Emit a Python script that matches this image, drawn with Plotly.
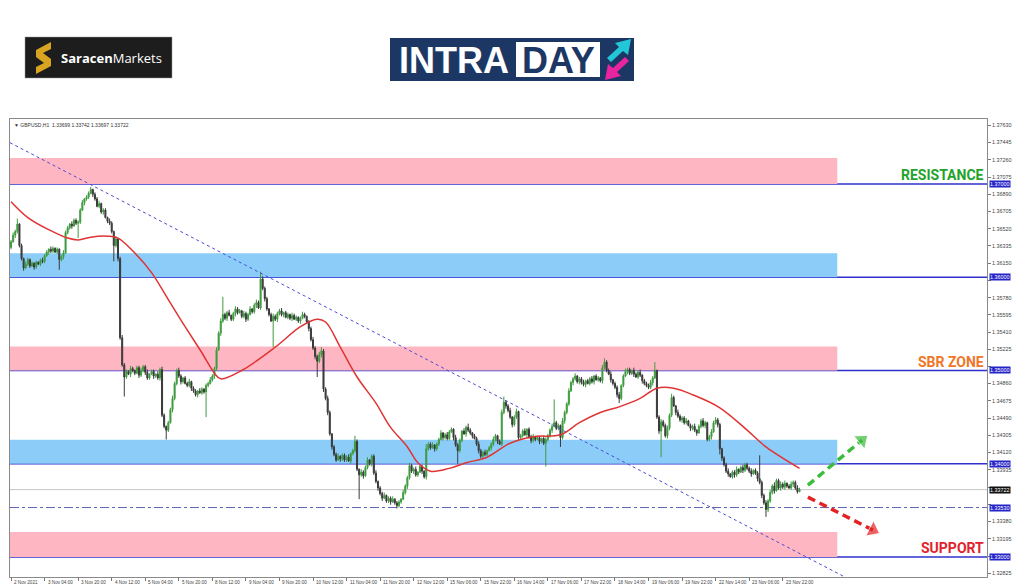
import plotly.graph_objects as go

# ---------------- data ----------------
TICK_LABELS = ["2 Nov 2021", "3 Nov 04:00", "3 Nov 20:00", "4 Nov 12:00", "5 Nov 04:00",
               "5 Nov 20:00", "8 Nov 12:00", "9 Nov 04:00", "9 Nov 20:00", "10 Nov 12:00",
               "11 Nov 04:00", "11 Nov 20:00", "12 Nov 12:00", "15 Nov 06:00", "15 Nov 22:00",
               "16 Nov 14:00", "17 Nov 06:00", "17 Nov 22:00", "18 Nov 14:00", "19 Nov 06:00",
               "19 Nov 22:00", "22 Nov 14:00", "23 Nov 06:00", "23 Nov 22:00"]
BARS_PER_TICK = 16

FIRST_OPEN = 1.3632
CLOSES = [
    1.3638, 1.3645, 1.3649, 1.3657, 1.3634, 1.3620, 1.3610, 1.3614, 1.3619, 1.3612, 1.3615, 1.3611, 1.3616, 1.3614, 1.3618, 1.3617,
    1.3623, 1.3627, 1.3630, 1.3628, 1.3631, 1.3627, 1.3630, 1.3619, 1.3622, 1.3626, 1.3648, 1.3653, 1.3657, 1.3655, 1.3661, 1.3658,
    1.3659, 1.3672, 1.3680, 1.3684, 1.3686, 1.3690, 1.3694, 1.3689, 1.3684, 1.3676, 1.3679, 1.3670, 1.3672, 1.3664, 1.3660, 1.3658,
    1.3649, 1.3634, 1.3641, 1.3620, 1.3535, 1.3506, 1.3493, 1.3499, 1.3496, 1.3502, 1.3500, 1.3497, 1.3503, 1.3495, 1.3500, 1.3504,
    1.3498, 1.3492, 1.3496, 1.3499, 1.3494, 1.3496, 1.3492, 1.3501, 1.3452, 1.3440, 1.3436, 1.3444, 1.3458, 1.3470, 1.3486, 1.3500,
    1.3494, 1.3488, 1.3492, 1.3486, 1.3484, 1.3488, 1.3481, 1.3478, 1.3474, 1.3478, 1.3476, 1.3480, 1.3477, 1.3484, 1.3486, 1.3490,
    1.3494, 1.3502, 1.3522, 1.3540, 1.3553, 1.3560, 1.3556, 1.3562, 1.3559, 1.3555, 1.3561, 1.3566, 1.3562, 1.3564, 1.3558, 1.3561,
    1.3555, 1.3560, 1.3566, 1.3563, 1.3570, 1.3573, 1.3567, 1.3598, 1.3588, 1.3577, 1.3566, 1.3560, 1.3553, 1.3558, 1.3555, 1.3561,
    1.3564, 1.3560, 1.3562, 1.3557, 1.3560, 1.3556, 1.3559, 1.3555, 1.3557, 1.3553, 1.3556, 1.3560, 1.3558, 1.3552, 1.3545, 1.3533,
    1.3524, 1.3515, 1.3510, 1.3517, 1.3521, 1.3480, 1.3470, 1.3455, 1.3432, 1.3418, 1.3410, 1.3404, 1.3408, 1.3405, 1.3409, 1.3404,
    1.3407, 1.3403, 1.3411, 1.3414, 1.3424, 1.3394, 1.3388, 1.3391, 1.3387, 1.3396, 1.3404, 1.3400, 1.3408, 1.3390, 1.3381, 1.3374,
    1.3368, 1.3363, 1.3366, 1.3360, 1.3363, 1.3359, 1.3362, 1.3358, 1.3355, 1.3359, 1.3362, 1.3369, 1.3376, 1.3385, 1.3398, 1.3392,
    1.3394, 1.3388, 1.3391, 1.3397, 1.3392, 1.3386, 1.3416, 1.3421, 1.3417, 1.3420, 1.3416, 1.3421, 1.3426, 1.3433, 1.3428, 1.3431,
    1.3427, 1.3434, 1.3437, 1.3428, 1.3420, 1.3414, 1.3425, 1.3435, 1.3432, 1.3439, 1.3436, 1.3433, 1.3430, 1.3427, 1.3421, 1.3414,
    1.3408, 1.3412, 1.3410, 1.3414, 1.3417, 1.3421, 1.3426, 1.3430, 1.3424, 1.3421, 1.3455, 1.3466, 1.3462, 1.3457, 1.3450, 1.3442,
    1.3450, 1.3456, 1.3428, 1.3430, 1.3435, 1.3431, 1.3437, 1.3429, 1.3425, 1.3429, 1.3426, 1.3428, 1.3424, 1.3427, 1.3422, 1.3426,
    1.3430, 1.3436, 1.3440, 1.3444, 1.3438, 1.3441, 1.3428, 1.3446, 1.3455, 1.3464, 1.3478, 1.3487, 1.3491, 1.3494, 1.3488, 1.3491,
    1.3487, 1.3485, 1.3489, 1.3486, 1.3491, 1.3488, 1.3494, 1.3490, 1.3492, 1.3489, 1.3503, 1.3509, 1.3500, 1.3496, 1.3490, 1.3486,
    1.3482, 1.3474, 1.3470, 1.3484, 1.3494, 1.3499, 1.3501, 1.3497, 1.3500, 1.3496, 1.3493, 1.3498, 1.3495, 1.3489, 1.3486, 1.3484,
    1.3482, 1.3487, 1.3492, 1.3500, 1.3450, 1.3435, 1.3445, 1.3441, 1.3430, 1.3438, 1.3452, 1.3471, 1.3462, 1.3455, 1.3451, 1.3447,
    1.3449, 1.3444, 1.3446, 1.3441, 1.3438, 1.3440, 1.3436, 1.3433, 1.3440, 1.3446, 1.3441, 1.3444, 1.3426, 1.3429, 1.3434, 1.3444,
    1.3447, 1.3442, 1.3416, 1.3406, 1.3399, 1.3392, 1.3389, 1.3386, 1.3391, 1.3388, 1.3394, 1.3391, 1.3396, 1.3393, 1.3399, 1.3395,
    1.3392, 1.3389, 1.3393, 1.3390, 1.3384, 1.3380, 1.3366, 1.3358, 1.3351, 1.3360, 1.3369, 1.3376, 1.3371, 1.3382, 1.3374, 1.3378,
    1.3375, 1.3379, 1.3376, 1.3374, 1.3378, 1.3380, 1.3374, 1.33699, 1.33722,
]
# wick lengths above / below the candle body, in pips
UP_WICK_PIPS = [
    2, 3, 2, 6, 1, 2, 1, 3, 2, 1, 2, 1, 2, 1, 2, 3,
    2, 2, 1, 3, 2, 1, 2, 1, 2, 3, 2, 2, 1, 3, 2, 2,
    2, 2, 3, 1, 2, 2, 3, 1, 2, 2, 3, 1, 2, 2, 1, 3,
    2, 1, 3, 1, 2, 3, 2, 2, 1, 3, 2, 1, 2, 2, 3, 2,
    2, 3, 1, 2, 2, 1, 3, 2, 3, 2, 1, 2, 2, 3, 2, 2,
    3, 2, 1, 2, 2, 3, 1, 2, 2, 1, 3, 2, 1, 2, 2, 3,
    2, 2, 3, 2, 3, 19, 2, 2, 3, 1, 2, 3, 2, 2, 1, 3,
    2, 2, 3, 1, 2, 3, 2, 8, 3, 2, 2, 1, 2, 3, 2, 2,
    2, 3, 1, 2, 2, 1, 3, 2, 2, 1, 2, 3, 2, 1, 2, 2,
    3, 2, 2, 3, 4, 2, 2, 3, 2, 1, 2, 2, 3, 1, 2, 2,
    2, 3, 1, 2, 6, 2, 1, 3, 2, 2, 3, 1, 2, 2, 3, 1,
    2, 2, 3, 1, 2, 2, 3, 1, 2, 2, 1, 3, 2, 2, 3, 2,
    2, 3, 1, 2, 2, 1, 5, 2, 2, 3, 1, 2, 2, 3, 1, 2,
    3, 2, 2, 1, 3, 2, 2, 1, 3, 2, 4, 2, 1, 2, 2, 3,
    2, 2, 3, 1, 2, 2, 3, 2, 1, 2, 3, 6, 2, 2, 3, 1,
    2, 3, 1, 2, 2, 3, 1, 2, 2, 3, 1, 2, 2, 1, 3, 2,
    2, 2, 3, 25, 2, 2, 1, 3, 2, 2, 3, 2, 2, 3, 1, 2,
    2, 3, 1, 2, 2, 3, 1, 2, 2, 1, 3, 4, 2, 2, 3, 1,
    2, 2, 3, 1, 2, 3, 2, 2, 1, 3, 2, 2, 3, 1, 2, 2,
    2, 3, 2, 9, 1, 2, 3, 2, 2, 3, 2, 4, 2, 1, 3, 2,
    2, 2, 3, 1, 2, 2, 3, 1, 2, 2, 3, 2, 1, 2, 3, 2,
    3, 2, 2, 1, 2, 2, 3, 1, 2, 2, 3, 1, 2, 3, 2, 2,
    2, 3, 1, 2, 2, 25, 2, 2, 3, 2, 3, 2, 4, 2, 2, 3,
    2, 3, 1, 2, 3, 2, 2, 3, 2,
]
DN_WICK_PIPS = [
    2, 1, 3, 2, 2, 2, 3, 1, 2, 2, 1, 3, 2, 1, 2, 2,
    2, 1, 3, 2, 2, 1, 2, 11, 2, 3, 1, 2, 2, 3, 1, 2,
    16, 2, 1, 3, 2, 2, 1, 3, 2, 1, 2, 2, 3, 1, 2, 2,
    2, 17, 2, 3, 2, 2, 21, 2, 1, 3, 2, 2, 1, 3, 2, 2,
    3, 2, 2, 1, 3, 2, 2, 3, 2, 2, 10, 2, 1, 3, 2, 2,
    2, 3, 2, 1, 2, 2, 3, 2, 2, 3, 1, 2, 2, 27, 2, 1,
    2, 3, 2, 1, 3, 2, 2, 3, 1, 2, 2, 3, 2, 1, 2, 2,
    3, 2, 1, 2, 2, 3, 1, 2, 2, 3, 2, 2, 1, 28, 2, 3,
    2, 2, 3, 1, 2, 2, 3, 1, 2, 2, 3, 1, 2, 2, 3, 2,
    2, 3, 17, 2, 3, 3, 2, 3, 2, 3, 2, 2, 1, 3, 2, 2,
    2, 1, 3, 2, 2, 2, 26, 2, 3, 1, 2, 2, 3, 2, 2, 3,
    2, 3, 1, 2, 2, 3, 1, 2, 3, 2, 2, 1, 2, 3, 2, 2,
    3, 2, 2, 1, 3, 2, 3, 2, 2, 1, 3, 2, 2, 1, 3, 2,
    2, 2, 1, 3, 2, 14, 2, 2, 1, 3, 2, 2, 3, 1, 2, 3,
    2, 3, 2, 2, 1, 3, 2, 2, 3, 1, 2, 2, 3, 2, 2, 3,
    2, 2, 3, 2, 2, 1, 3, 2, 3, 2, 2, 1, 3, 2, 2, 25,
    2, 2, 3, 1, 2, 2, 10, 2, 3, 2, 2, 1, 3, 2, 2, 3,
    2, 2, 3, 1, 2, 2, 3, 1, 2, 2, 3, 2, 2, 1, 3, 2,
    2, 3, 5, 2, 2, 1, 3, 2, 2, 3, 1, 2, 2, 3, 2, 2,
    2, 2, 3, 1, 2, 3, 28, 2, 2, 3, 2, 2, 1, 3, 2, 2,
    3, 2, 2, 1, 3, 2, 2, 3, 1, 2, 2, 3, 2, 2, 3, 1,
    2, 3, 6, 3, 2, 2, 3, 1, 2, 3, 2, 2, 1, 3, 2, 2,
    2, 3, 1, 2, 3, 2, 3, 2, 8, 3, 2, 2, 3, 1, 2, 3,
    2, 3, 2, 1, 2, 3, 2, 2, 0.2,
]
PIP = 0.0001

# moving average (red line), read at these bar positions
MA_BARS = [0, 8, 18, 27, 32, 38, 46, 51, 59, 67, 75, 83, 91, 97, 100, 110, 126, 138, 146, 150,
           157, 165, 174, 181, 189, 194, 200, 209, 217, 227, 238, 249, 262, 271, 281, 290, 300,
           308, 316, 325, 338, 351, 360, 376]
MA_VALS = [1.3681, 1.3664, 1.3651, 1.3642, 1.3640, 1.3643, 1.3644, 1.3642, 1.3626, 1.3605,
           1.3576, 1.3547, 1.3519, 1.3497, 1.3491, 1.3500, 1.3525, 1.3547, 1.3555, 1.3552,
           1.3525, 1.3493, 1.3465, 1.3439, 1.3418, 1.3401, 1.3392, 1.3395, 1.3401, 1.3407,
           1.3422, 1.3429, 1.3431, 1.3444, 1.3455, 1.3461, 1.3470, 1.3481, 1.3481, 1.3474,
           1.3460, 1.3436, 1.3418, 1.3395]

Y_TICKS = [1.37630, 1.37445, 1.37260, 1.37075, 1.36890, 1.36705, 1.36520, 1.36335, 1.36150,
           1.35965, 1.35780, 1.35595, 1.35410, 1.35225, 1.35040, 1.34860, 1.34675, 1.34490,
           1.34305, 1.34120, 1.33935, 1.33750, 1.33565, 1.33380, 1.33195, 1.33010, 1.32825]
# tick labels covered by the price boxes in the reference
Y_TICKS_HIDDEN = [1.35965, 1.35040, 1.33750, 1.33565, 1.33010]
Y_RANGE = [1.32785, 1.37697]
X_RANGE = [-0.5, 465.4]

LEVELS = [1.37000, 1.36000, 1.35000, 1.34000, 1.33000]
PINK_ZONES = [(1.37000, 1.37279), (1.35000, 1.35258), (1.33000, 1.33268)]
BLUE_ZONES = [(1.36000, 1.36258), (1.34000, 1.34258)]
ZONE_END_BAR = 394
CURRENT_PRICE = 1.33722
DASH_LEVEL = 1.33530

TREND_X = [-0.5, 400]
TREND_Y = [1.37443, 1.32757]
UP_ARROW_X, UP_ARROW_Y = [380, 405.8], [1.33770, 1.34253]
DN_ARROW_X, DN_ARROW_Y = [380, 411.0], [1.33642, 1.33288]

ZONE_LABELS = [("RESISTANCE", 175, "#22a32a"), ("SBR ZONE", 362, "#f07628"), ("SUPPORT", 548, "#e3232b")]
HEADER = "\u25bc GBPUSD,H1  1.33699 1.33742 1.33697 1.33722"

# ---------------- build ----------------
n = min(len(CLOSES), len(UP_WICK_PIPS), len(DN_WICK_PIPS))
closes = CLOSES[:n]
opens = [FIRST_OPEN] + closes[:-1]
highs = [max(o, c) + u * PIP for o, c, u in zip(opens, closes, UP_WICK_PIPS)]
lows = [min(o, c) - d * PIP for o, c, d in zip(opens, closes, DN_WICK_PIPS)]
bars = list(range(n))

W, H = 1024, 587
PL, PR, PT, PB = 10, 987, 119, 577


def px(x):
    return (x - PL) / (PR - PL)


def py(y):
    return (PB - y) / (PB - PT)


def ppath(pts):
    return "M " + " L ".join(f"{px(a):.5f},{py(b):.5f}" for a, b in pts) + " Z"


fig = go.Figure()

fig.add_trace(go.Scatter(x=TREND_X, y=TREND_Y, mode="lines",
                         line=dict(color="#4b4bd2", width=1, dash="dot"), hoverinfo="skip"))

fig.add_trace(go.Candlestick(
    x=bars, open=opens, high=highs, low=lows, close=closes,
    increasing=dict(line=dict(color="#3f9b3f", width=1), fillcolor="#3f9b3f"),
    decreasing=dict(line=dict(color="#3a3a3a", width=1), fillcolor="#3a3a3a"),
    whiskerwidth=0, hoverinfo="skip"))

fig.add_trace(go.Scatter(x=MA_BARS, y=MA_VALS, mode="lines",
                         line=dict(color="#e03434", width=1.5, shape="spline", smoothing=1),
                         hoverinfo="skip"))

for xs, ys, col in [(UP_ARROW_X, UP_ARROW_Y, "#3cbc3c"), (DN_ARROW_X, DN_ARROW_Y, "#e42222")]:
    fig.add_trace(go.Scatter(
        x=xs, y=ys, mode="lines+markers",
        line=dict(color=col, width=3.5, dash="8px,5px"),
        marker=dict(symbol="triangle-up", size=[0, 15], color=col, angleref="previous"),
        hoverinfo="skip"))

shapes = []
for y0, y1 in PINK_ZONES:
    shapes.append(dict(type="rect", xref="x", yref="y", x0=X_RANGE[0], x1=ZONE_END_BAR, y0=y0, y1=y1,
                       fillcolor="#ffb6c3", line=dict(width=0), layer="below"))
for y0, y1 in BLUE_ZONES:
    shapes.append(dict(type="rect", xref="x", yref="y", x0=X_RANGE[0], x1=ZONE_END_BAR, y0=y0, y1=y1,
                       fillcolor="#8bcdf8", line=dict(width=0), layer="below"))
for lv in LEVELS:
    shapes.append(dict(type="line", xref="paper", yref="y", x0=0, x1=1, y0=lv, y1=lv,
                       line=dict(color="#3030cc", width=1.6), layer="below"))
shapes.append(dict(type="line", xref="paper", yref="y", x0=0, x1=1, y0=CURRENT_PRICE, y1=CURRENT_PRICE,
                   line=dict(color="#c4c4c4", width=1), layer="below"))
shapes.append(dict(type="line", xref="paper", yref="y", x0=0, x1=1, y0=DASH_LEVEL, y1=DASH_LEVEL,
                   line=dict(color="#6262b4", width=1, dash="dashdot"), layer="below"))

# logos (decoration)
shapes.append(dict(type="rect", xref="paper", yref="paper", x0=px(25), x1=px(172), y0=py(78), y1=py(37),
                   fillcolor="#1d1d1d", line=dict(color="#9a9a9a", width=0.5)))
shapes.append(dict(type="path", xref="paper", yref="paper",
                   path=ppath([(36, 50), (51, 42), (51, 49), (43, 53), (51, 59), (51, 66),
                               (36, 74), (36, 67), (44, 63), (36, 57)]),
                   fillcolor="#d8a422", line=dict(width=0)))
shapes.append(dict(type="rect", xref="paper", yref="paper", x0=px(390), x1=px(634), y0=py(81), y1=py(38),
                   fillcolor="#1d3764", line=dict(width=0)))
shapes.append(dict(type="rect", xref="paper", yref="paper", x0=px(516), x1=px(600), y0=py(77), y1=py(42),
                   fillcolor="#ffffff", line=dict(width=0)))
shapes.append(dict(type="path", xref="paper", yref="paper",
                   path=ppath([(607, 58), (619, 47), (615, 43), (631, 39), (628, 55), (623, 51), (611, 62)]),
                   fillcolor="#22c6d6", line=dict(width=0)))
shapes.append(dict(type="path", xref="paper", yref="paper",
                   path=ppath([(629, 61), (617, 72), (621, 76), (605, 80), (608, 64), (613, 68), (625, 57)]),
                   fillcolor="#e824a0", line=dict(width=0)))

annotations = []
x_font = dict(family="Liberation Sans", size=4.6, color="#444444")
y_font = dict(family="Liberation Sans", size=5.4, color="#444444")
# time labels, left-aligned just right of each tick (MT4 style)
for i, lab in enumerate(TICK_LABELS):
    annotations.append(dict(xref="x", yref="paper", x=i * BARS_PER_TICK, y=py(582), xanchor="left",
                            yanchor="middle", xshift=1, text=lab, showarrow=False, font=x_font))
for lv in LEVELS + [DASH_LEVEL]:
    annotations.append(dict(xref="paper", yref="y", x=1, y=lv, xanchor="left", yanchor="middle", xshift=2,
                            text=f"{lv:.5f}", showarrow=False, bgcolor="#2424c8", borderpad=0,
                            font=dict(family="Liberation Sans", size=5.4, color="white")))
annotations.append(dict(xref="paper", yref="y", x=1, y=CURRENT_PRICE, xanchor="left", yanchor="middle", xshift=2,
                        text=f"{CURRENT_PRICE:.5f}", showarrow=False, bgcolor="#111111", borderpad=0,
                        font=dict(family="Liberation Sans", size=5.4, color="white")))
for txt, ypix, col in ZONE_LABELS:
    annotations.append(dict(xref="paper", yref="paper", x=px(986), y=py(ypix), xanchor="right", yanchor="middle",
                            text=f"<b>{txt}</b>", showarrow=False,
                            font=dict(family="Roboto", size=14, color=col)))
annotations.append(dict(xref="paper", yref="paper", x=0, y=1, xanchor="left", yanchor="top", xshift=2, yshift=-1,
                        text=HEADER, showarrow=False,
                        font=dict(family="Liberation Sans", size=5, color="#333333")))
annotations.append(dict(xref="paper", yref="paper", x=px(111), y=py(58), xanchor="center", yanchor="middle",
                        text="<b>Saracen</b>Markets", showarrow=False,
                        font=dict(family="Open Sans", size=13, color="white")))
annotations.append(dict(xref="paper", yref="paper", x=px(397), y=py(60), xanchor="left", yanchor="middle",
                        text="<b>INTRA</b>", showarrow=False,
                        font=dict(family="Liberation Sans", size=36, color="white")))
annotations.append(dict(xref="paper", yref="paper", x=px(558), y=py(60), xanchor="center", yanchor="middle",
                        text="<b>DAY</b>", showarrow=False,
                        font=dict(family="Liberation Sans", size=36, color="#1d3764")))

fig.update_layout(
    width=W, height=H,
    margin=dict(l=PL, r=W - PR, t=PT, b=H - PB),
    paper_bgcolor="white", plot_bgcolor="white", showlegend=False,
    shapes=shapes, annotations=annotations,
    xaxis=dict(range=X_RANGE, tickmode="array",
               tickvals=[i * BARS_PER_TICK for i in range(len(TICK_LABELS))],
               showticklabels=False,
               ticks="outside", ticklen=3, tickcolor="#777777",
               showline=True, linecolor="#8a8a8a", linewidth=1, mirror=True,
               showgrid=False, zeroline=False, rangeslider=dict(visible=False), automargin=False),
    yaxis=dict(range=Y_RANGE, side="right", tickmode="array", tickvals=Y_TICKS,
               ticktext=["" if v in Y_TICKS_HIDDEN else f"{v:.5f}" for v in Y_TICKS],
               ticks="outside", ticklen=3, tickcolor="#777777",
               tickfont=y_font, showline=True, linecolor="#8a8a8a", linewidth=1, mirror=True,
               showgrid=False, zeroline=False, automargin=False),
)

fig.write_html("out.html", config={"displayModeBar": False},
               post_script="document.body.style.margin='0';")
